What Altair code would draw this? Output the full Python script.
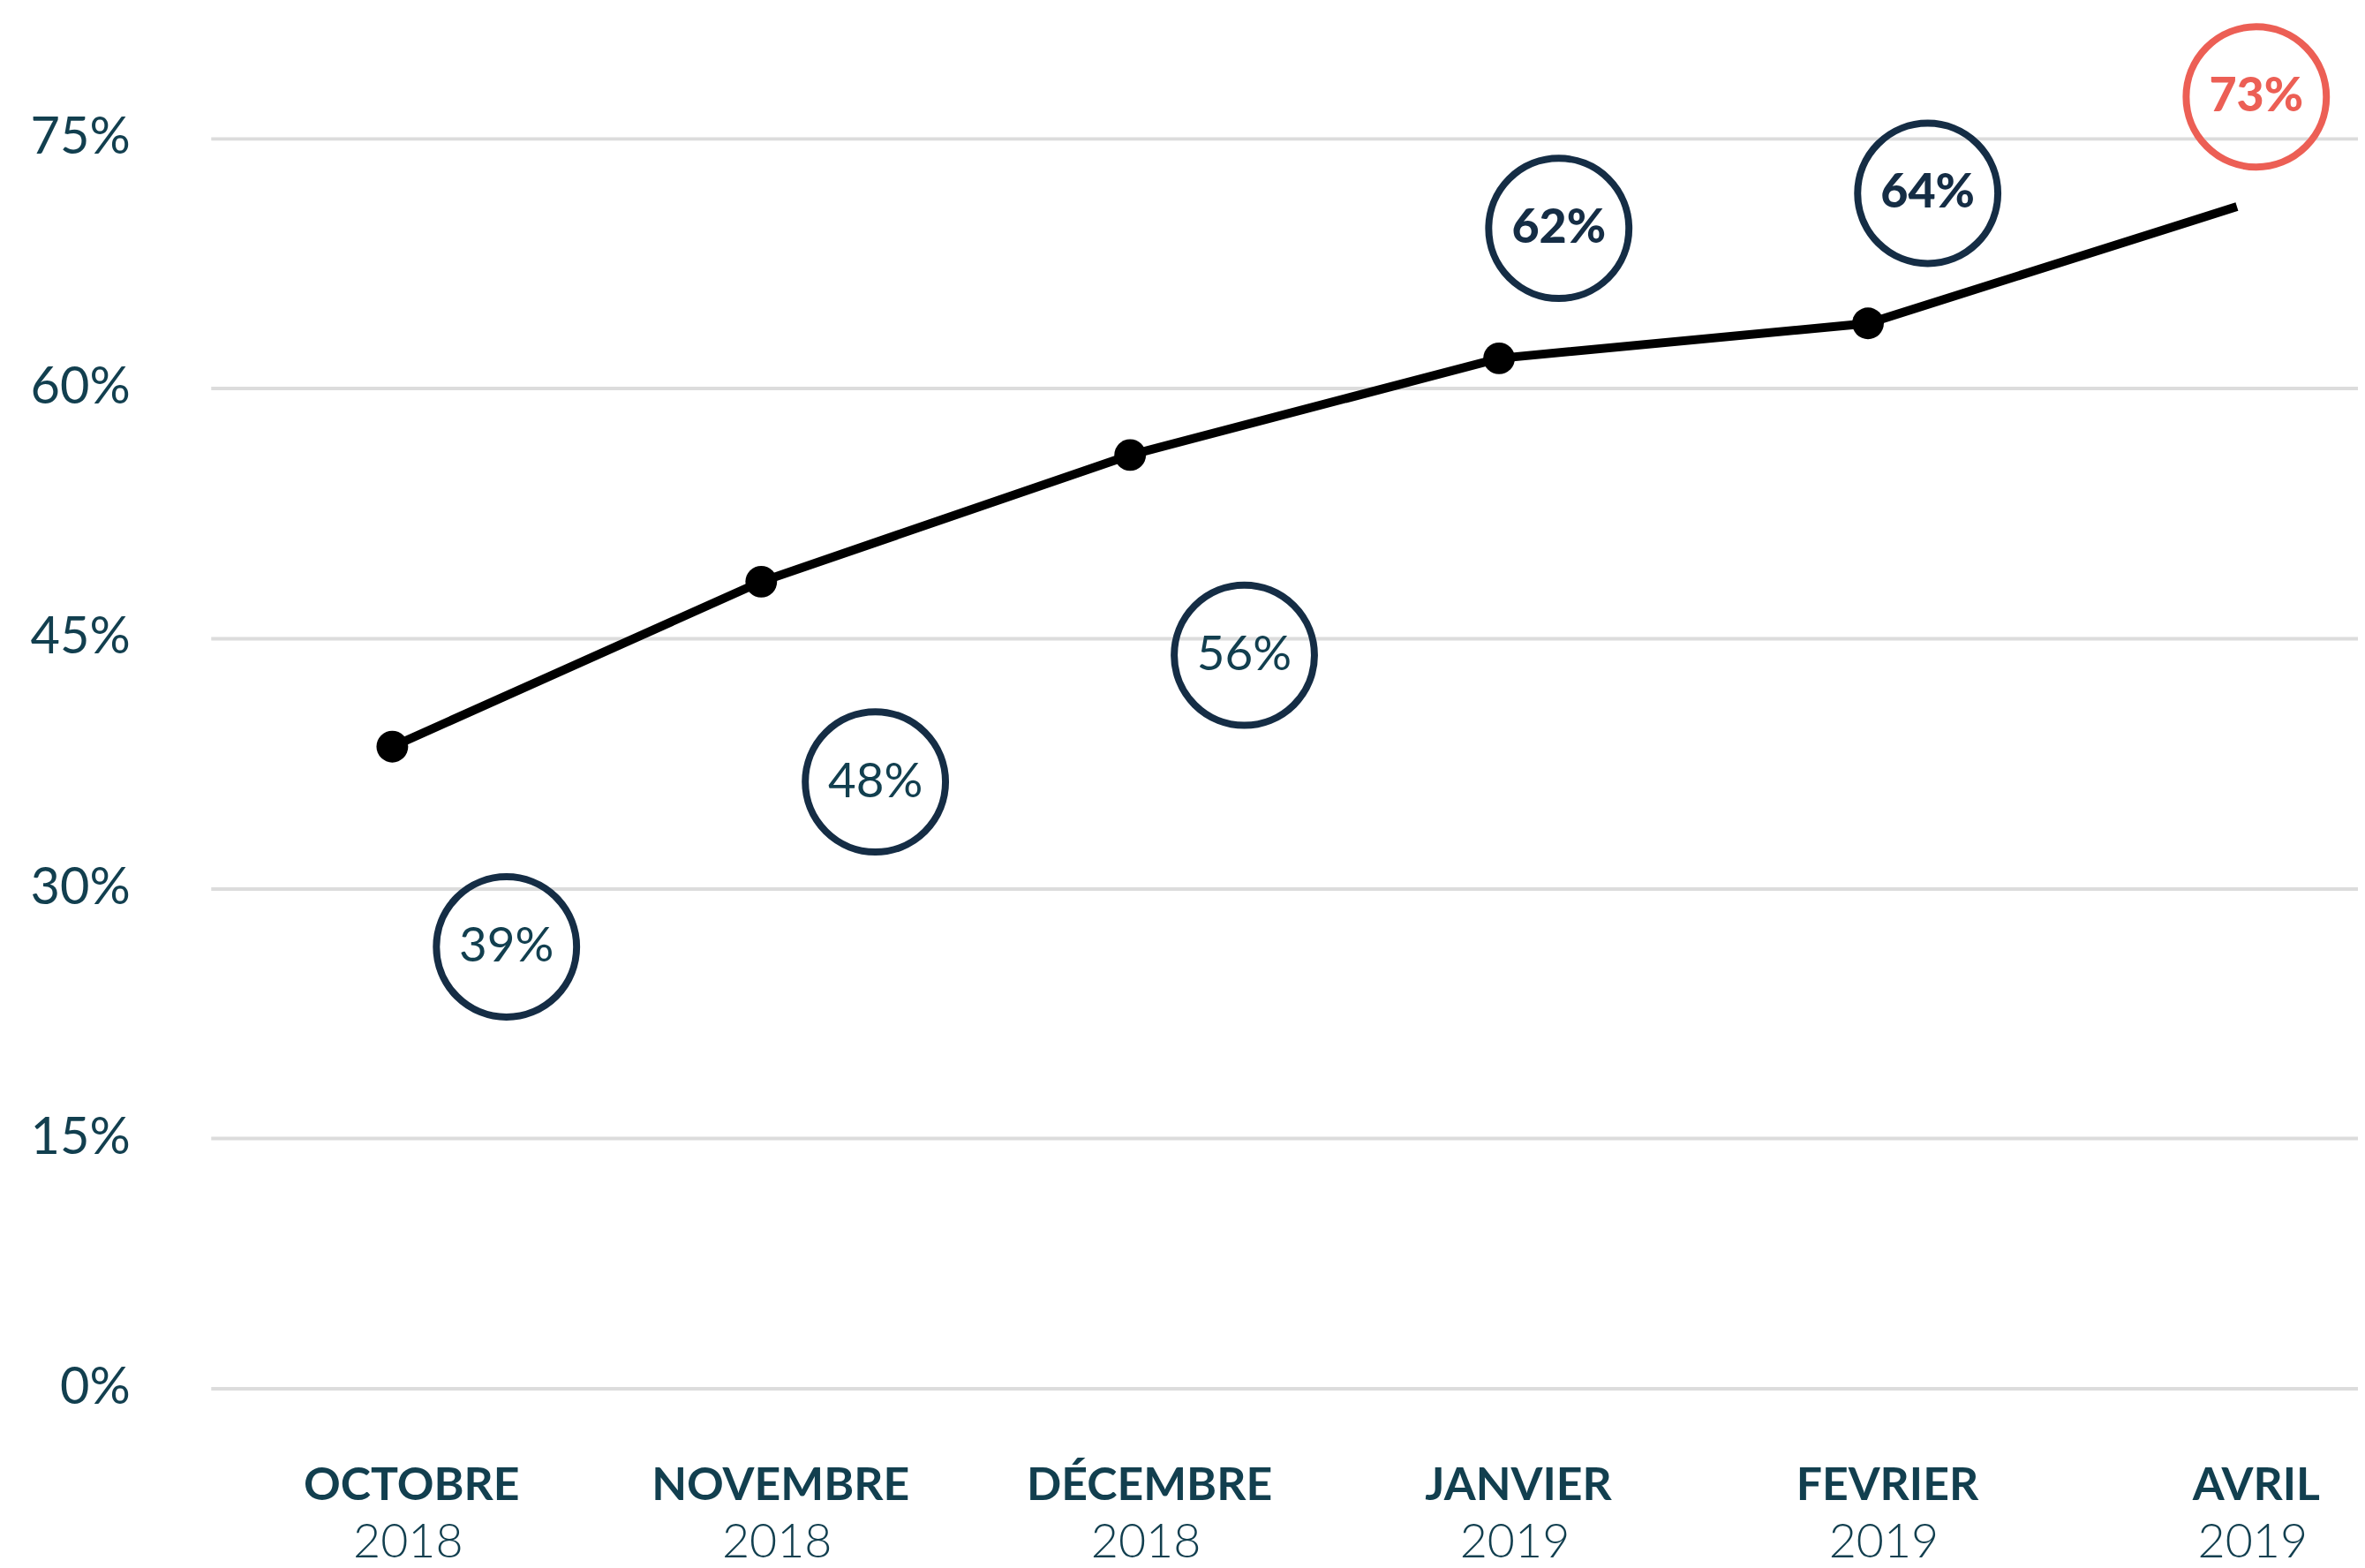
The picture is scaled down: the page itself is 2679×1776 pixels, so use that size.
import altair as alt
import pandas as pd

months = ["OCTOBRE", "NOVEMBRE", "DÉCEMBRE", "JANVIER", "FEVRIER", "AVRIL"]
years = ["2018", "2018", "2018", "2019", "2019", "2019"]
labels = [39, 48, 56, 62, 64, 73]          # value shown in each circle
line_values = [38.5, 48.4, 56.0, 61.8, 63.9, 70.9]  # where the line passes
has_dot = [True, True, True, True, True, False]
y_ticks = [0, 15, 30, 45, 60, 75]

df = pd.DataFrame({
    "month": months,
    "year": years,
    "label": labels,
    "v": line_values,
    "dot": has_dot,
})
df["txt"] = df["label"].astype(str) + "%"

TEAL = "#123f4f"
NAVY = "#152d45"
RED = "#ec5f55"
FONT = "Lato"
CSIZE = 25500
CSTROKE = 8

x = alt.X("month:N", sort=months,
          scale=alt.Scale(padding=0.41, align=0.6),
          axis=None)
y = alt.Y("v:Q",
          scale=alt.Scale(domain=[0, 82], nice=False, zero=True),
          axis=alt.Axis(values=y_ticks, title=None, domain=False, ticks=False,
                        labelExpr="datum.value + '%'", labelFont=FONT,
                        labelFontSize=58, labelColor=TEAL, labelPadding=92,
                        grid=True, gridColor="#dcdcdc", gridWidth=4))

base = alt.Chart(df).encode(x=x)

line = base.mark_line(color="black", strokeWidth=10).encode(y=y)
dots = base.transform_filter("datum.dot").mark_circle(
    color="black", size=1300, opacity=1).encode(y="v:Q")

below = base.transform_filter("datum.label < 60")
above = base.transform_filter("datum.label >= 60 && datum.label < 70")
last = base.transform_filter("datum.label >= 70")

c_below = below.mark_point(shape="circle", size=CSIZE, strokeWidth=CSTROKE,
                           color=NAVY, filled=False, opacity=1,
                           xOffset=130, yOffset=228).encode(y="v:Q")
t_below = below.mark_text(font=FONT, fontSize=55, color=TEAL,
                          dx=130, dy=228, baseline="middle").encode(y="v:Q", text="txt:N")

c_above = above.mark_point(shape="circle", size=CSIZE, strokeWidth=CSTROKE,
                           color=NAVY, filled=False, opacity=1,
                           xOffset=68, yOffset=-148).encode(y="v:Q")
t_above = above.mark_text(font=FONT, fontSize=54, fontWeight=900, color=NAVY,
                          dx=68, dy=-148, baseline="middle").encode(y="v:Q", text="txt:N")

c_last = last.mark_point(shape="circle", size=CSIZE, strokeWidth=CSTROKE,
                         color=RED, filled=False, opacity=1,
                         xOffset=22, yOffset=-125).encode(y="v:Q")
t_last = last.mark_text(font=FONT, fontSize=54, fontWeight=900, color=RED,
                        dx=22, dy=-125, baseline="middle").encode(y="v:Q", text="txt:N")

m_text = base.mark_text(font=FONT, fontSize=52, fontWeight="bold", color=TEAL,
                        baseline="alphabetic", dx=22, dy=127).encode(
    y=alt.datum(0), text="month:N")
y_text = base.mark_text(font=FONT, fontSize=54, fontWeight=300, color=TEAL,
                        baseline="alphabetic", dx=18, dy=193).encode(
    y=alt.datum(0), text="year:N")

chart = alt.layer(line, dots, c_below, t_below, c_above, t_above, c_last, t_last,
                  m_text, y_text).properties(
    width=2445, height=1556,
    background="white",
    padding={"top": 1, "left": 26, "right": 0, "bottom": 0},
).configure_view(stroke=None)

chart.save("out.html", embed_options={"renderer": "svg", "actions": False})
